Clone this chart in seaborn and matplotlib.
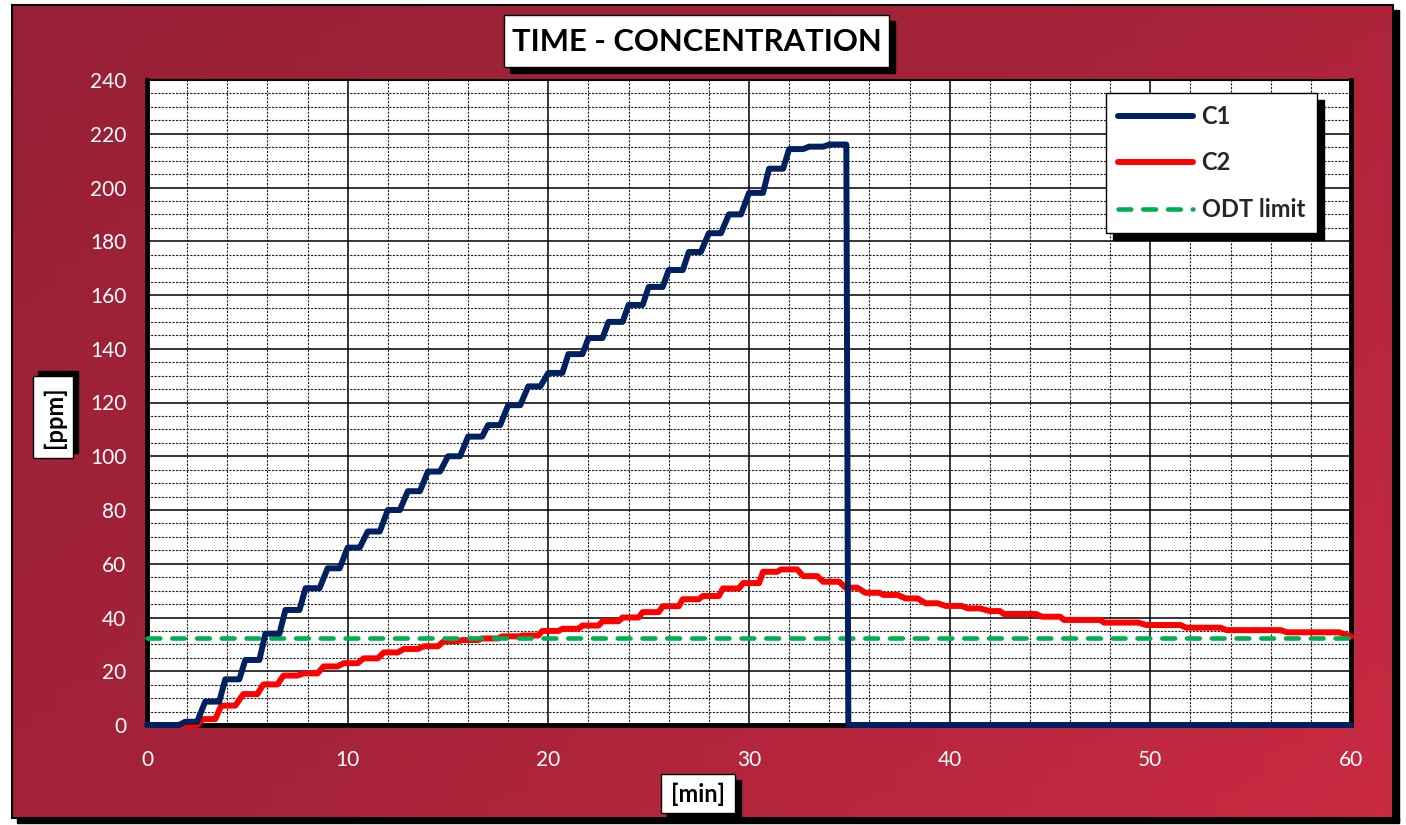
import numpy as np
import pandas as pd
import matplotlib
matplotlib.use("Agg")
import matplotlib.pyplot as plt
from matplotlib.patches import Rectangle
from matplotlib.ticker import MultipleLocator
from matplotlib.colors import LinearSegmentedColormap
import seaborn as sns

# C1 trace: time [min] / concentration [ppm]
c1_time = [0, 1.6, 1.9, 2.5, 2.9, 3.6, 3.9, 4.6, 4.9, 5.6, 5.9, 6.6, 6.9, 7.6,
           7.9, 8.6, 9.0, 9.6, 10.0, 10.6, 11.0, 11.6, 12.0, 12.6, 13.0, 13.6,
           14.0, 14.6, 15.0, 15.6, 16.0, 16.7, 17.0, 17.6, 18.0, 18.6, 19.0, 19.6,
           20.0, 20.7, 21.0, 21.7, 22.0, 22.7, 23.0, 23.7, 24.0, 24.7, 25.0, 25.7,
           26.0, 26.7, 27.0, 27.6, 28.0, 28.6, 29.0, 29.6, 30.0, 30.7, 31.0, 31.7,
           32.0, 32.7, 33.0, 33.7, 34.0, 34.85, 34.95, 60]
c1_ppm = [0, 0, 1.2, 1.2, 8.7, 8.7, 17, 17, 24.2, 24.2, 34, 34, 42.8, 42.8,
          50.9, 50.9, 58.3, 58.3, 66, 66, 72, 72, 80, 80, 87, 87,
          94.3, 94.3, 100, 100, 107.3, 107.3, 111.6, 111.6, 119, 119, 126, 126,
          131, 131, 138, 138, 144, 144, 150, 150, 156.3, 156.3, 163, 163,
          169.3, 169.3, 176, 176, 183, 183, 190, 190, 198, 198, 207, 207,
          214.3, 214.3, 215.2, 215.2, 216, 216, 0, 0]

# C2 trace
c2_time = [0, 2.5, 2.8, 3.4, 3.7, 4.4, 4.8, 5.5, 5.8, 6.5, 6.8, 7.5, 7.8, 8.5,
           8.8, 9.5, 9.8, 10.5, 10.8, 11.5, 11.8, 12.5, 12.8, 13.5, 13.8, 14.5,
           14.8, 15.5, 15.7, 16.5, 16.7, 17.5, 17.7, 18.6, 18.7, 19.5, 19.7, 20.5,
           20.7, 21.5, 21.7, 22.5, 22.7, 23.5, 23.7, 24.5, 24.7, 25.5, 25.7, 26.5,
           26.7, 27.5, 27.7, 28.5, 28.7, 29.5, 29.7, 30.5, 30.7, 31.4, 31.6, 32.4,
           32.7, 33.4, 33.7, 34.5, 34.8, 35.4, 35.8, 36.5, 36.7, 37.4, 37.8, 38.4,
           38.8, 39.4, 39.8, 40.6, 40.9, 41.5, 42.0, 42.5, 42.7, 44.3, 44.6, 45.5,
           45.7, 47.5, 47.7, 49.4, 49.8, 51.5, 51.8, 53.5, 53.8, 56.5, 56.8, 59.4,
           60]
c2_ppm = [0, 0, 2.2, 2.2, 7.2, 7.2, 11.5, 11.5, 15.1, 15.1, 18.4, 18.4, 19.2, 19.2,
          21.8, 21.8, 23, 23, 24.8, 24.8, 27, 27, 28.3, 28.3, 29.3, 29.3,
          31.2, 31.2, 31.6, 31.6, 32.2, 32.2, 33, 33, 33.3, 33.3, 35, 35,
          35.8, 35.8, 37, 37, 38.6, 38.6, 40, 40, 42, 42, 44.2, 44.2,
          46.8, 46.8, 48, 48, 50.8, 50.8, 52.8, 52.8, 57, 57, 57.9, 57.9,
          55.4, 55.4, 53.3, 53.3, 51.1, 51.1, 49.2, 49.2, 48.4, 48.4, 47.1, 47.1,
          45.3, 45.3, 44.3, 44.3, 43.4, 43.4, 42.4, 42.4, 41.3, 41.3, 40.3, 40.3,
          39.1, 39.1, 38.1, 38.1, 37.2, 37.2, 36.2, 36.2, 35.3, 35.3, 34.5, 34.5,
          32.9]

# odour detection threshold
odt_time = [0, 60]
odt_ppm = [32.5, 32.5]

series_names = ["C1", "C2", "ODT limit"]
series_colors = ["#002060", "#FF0000", "#00B050"]

W, H = 1406, 825
sns.set_style("white")
plt.rcParams["font.family"] = ["Lato", "DejaVu Sans"]

fig = plt.figure(figsize=(W / 100, H / 100), dpi=100)
fig.patch.set_facecolor("white")


def fx(px):
    return px / W


def fy(py):
    return 1 - py / H


# red gradient background, in pixel coordinates (y down)
bg = fig.add_axes([0, 0, 1, 1], zorder=-10)
bg.set_xlim(0, W)
bg.set_ylim(H, 0)
bg.axis("off")
gx, gy = np.meshgrid(np.linspace(0, 1, 64), np.linspace(0, 1, 64))
red_cmap = LinearSegmentedColormap.from_list("bg", ["#982036", "#A62339", "#C92A42"])
bg.imshow(0.6 * gx + 0.4 * gy, extent=(12, 1393, 818, 5), aspect="auto",
          cmap=red_cmap, zorder=0)
bg.add_patch(Rectangle((12, 5), 1381, 813, fill=False, edgecolor="black", lw=1.5, zorder=1))
bg.add_patch(Rectangle((1393, 10), 6, 812, color="black", zorder=1))
bg.add_patch(Rectangle((17, 818), 1382, 5, color="black", zorder=1))


def shadow_box(x0, y0, x1, y1, dx=6, dy=6):
    bg.add_patch(Rectangle((x0 + dx, y0 + dy), x1 - x0, y1 - y0, color="black", zorder=2))
    bg.add_patch(Rectangle((x0, y0), x1 - x0, y1 - y0, facecolor="white",
                           edgecolor="black", lw=1, zorder=3))


shadow_box(504, 15, 889, 67)
bg.text(697, 42, "TIME - CONCENTRATION", ha="center", va="center",
        fontsize=22.3, fontweight="bold", color="black", zorder=4)

shadow_box(33, 376, 73, 458, dx=5, dy=-5)
bg.text(54, 417, "[ppm]", ha="center", va="center", rotation=90,
        fontsize=17, fontweight="bold", color="black", zorder=4)

shadow_box(661, 774, 735, 813)
bg.text(698, 794, "[min]", ha="center", va="center",
        fontsize=17, fontweight="bold", color="black", zorder=4)

# plot area
ax = fig.add_axes([fx(147), fy(725), fx(1351) - fx(147), fy(80) - fy(725)])
ax.set_facecolor("white")

c1 = pd.DataFrame({"time": c1_time, "ppm": c1_ppm})
c2 = pd.DataFrame({"time": c2_time, "ppm": c2_ppm})
odt = pd.DataFrame({"time": odt_time, "ppm": odt_ppm})

sns.lineplot(data=c1, x="time", y="ppm", ax=ax, color=series_colors[0], lw=4.3,
             sort=False, estimator=None, label=series_names[0],
             solid_joinstyle="round", solid_capstyle="round", zorder=5, clip_on=False)
sns.lineplot(data=c2, x="time", y="ppm", ax=ax, color=series_colors[1], lw=4.3,
             sort=False, estimator=None, label=series_names[1],
             solid_joinstyle="round", solid_capstyle="round", zorder=4, clip_on=False)
sns.lineplot(data=odt, x="time", y="ppm", ax=ax, color=series_colors[2], lw=3.3,
             sort=False, estimator=None, label=series_names[2],
             dashes=False, zorder=4.5, clip_on=False)
odt_line = ax.get_lines()[2]
odt_line.set_dashes((2.8, 2.6))
odt_line.set_dash_capstyle("round")

ax.set_xlim(0, 60)
ax.set_ylim(0, 240)
ax.xaxis.set_major_locator(MultipleLocator(10))
ax.xaxis.set_minor_locator(MultipleLocator(2))
ax.yaxis.set_major_locator(MultipleLocator(20))
ax.yaxis.set_minor_locator(MultipleLocator(5))
ax.grid(which="major", color="black", lw=1.1)
ax.grid(which="minor", color="#222222", lw=0.8, linestyle=(0, (2, 1.2)))
ax.set_axisbelow(True)
ax.set_xlabel("")
ax.set_ylabel("")

ax.tick_params(which="major", direction="out", length=6, width=1.3, color="black",
               labelcolor="white", labelsize=15)
ax.tick_params(axis="x", which="major", pad=12)
ax.tick_params(axis="y", which="major", pad=9)
ax.tick_params(which="minor", length=0)

for side in ["left", "right", "bottom"]:
    ax.spines[side].set_linewidth(3.5)
    ax.spines[side].set_color("black")
ax.spines["top"].set_linewidth(1.5)
ax.spines["top"].set_color("black")

leg = ax.legend(loc="upper left", bbox_to_anchor=(fx(1106), fy(93)),
                bbox_transform=fig.transFigure, borderaxespad=0, fancybox=False,
                frameon=True, framealpha=1, edgecolor="black",
                prop={"weight": "bold", "size": 17},
                handlelength=3.2, handletextpad=0.35, labelspacing=1.0,
                borderpad=0.5,
                shadow={"ox": 5, "oy": -5, "color": "black", "alpha": 1})
leg.get_frame().set_linewidth(1)
for h in leg.get_lines():
    h.set_solid_capstyle("round")
    h.set_dash_capstyle("round")

fig.savefig("out.png", dpi=100)
